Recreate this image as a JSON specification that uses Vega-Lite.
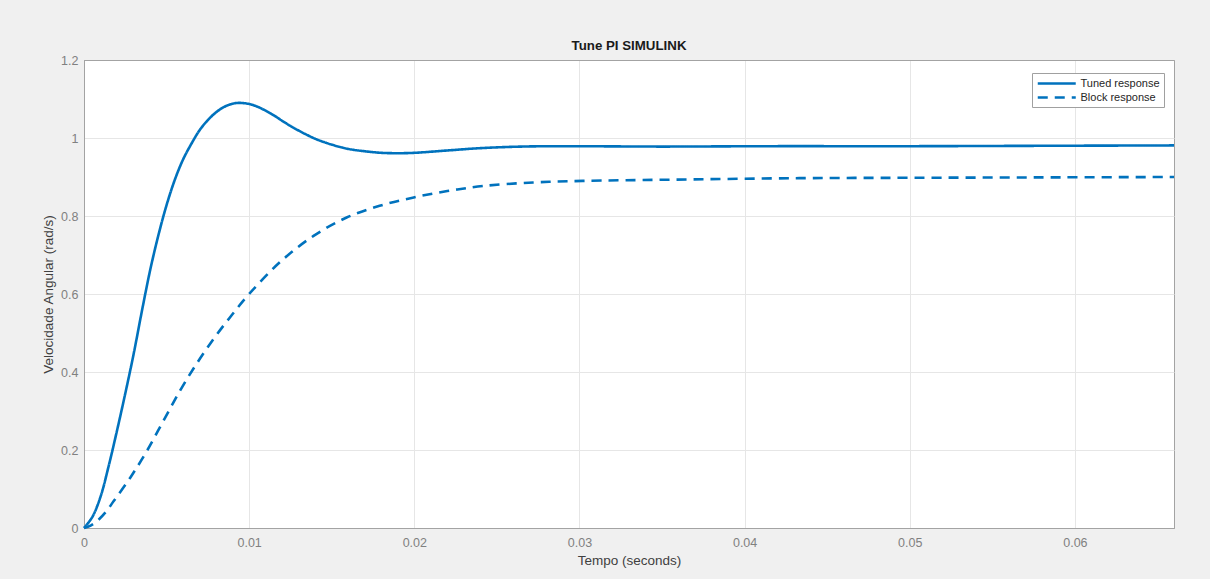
{
  "$schema": "https://vega.github.io/schema/vega-lite/v6.json",
  "width": 1090,
  "height": 468,
  "autosize": {"type": "none"},
  "padding": {"left": 84, "top": 60, "right": 36, "bottom": 51},
  "background": "#f0f0f0",
  "title": {"text": "Tune PI SIMULINK", "fontSize": 13.3, "font": "Liberation Sans", "fontWeight": "bold", "color": "#1a1a1a", "anchor": "middle", "offset": -9, "baseline": "alphabetic"},
  "config": {
    "font": "Liberation Sans",
    "view": {"fill": "white", "stroke": "#a3a3a3", "strokeWidth": 1}
  },
  "data": {"values": [
    {"t": 0, "v": 0, "series": "Tuned response"},
    {"t": 0.0005, "v": 0.028, "series": "Tuned response"},
    {"t": 0.001, "v": 0.08, "series": "Tuned response"},
    {"t": 0.0015, "v": 0.16, "series": "Tuned response"},
    {"t": 0.002, "v": 0.25, "series": "Tuned response"},
    {"t": 0.0025, "v": 0.345, "series": "Tuned response"},
    {"t": 0.003, "v": 0.445, "series": "Tuned response"},
    {"t": 0.0035, "v": 0.555, "series": "Tuned response"},
    {"t": 0.004, "v": 0.66, "series": "Tuned response"},
    {"t": 0.0045, "v": 0.75, "series": "Tuned response"},
    {"t": 0.005, "v": 0.828, "series": "Tuned response"},
    {"t": 0.0055, "v": 0.893, "series": "Tuned response"},
    {"t": 0.006, "v": 0.945, "series": "Tuned response"},
    {"t": 0.0065, "v": 0.985, "series": "Tuned response"},
    {"t": 0.007, "v": 1.02, "series": "Tuned response"},
    {"t": 0.0075, "v": 1.046, "series": "Tuned response"},
    {"t": 0.008, "v": 1.066, "series": "Tuned response"},
    {"t": 0.0085, "v": 1.08, "series": "Tuned response"},
    {"t": 0.009, "v": 1.088, "series": "Tuned response"},
    {"t": 0.0094, "v": 1.09, "series": "Tuned response"},
    {"t": 0.0099, "v": 1.088, "series": "Tuned response"},
    {"t": 0.0104, "v": 1.082, "series": "Tuned response"},
    {"t": 0.011, "v": 1.07, "series": "Tuned response"},
    {"t": 0.0115, "v": 1.058, "series": "Tuned response"},
    {"t": 0.012, "v": 1.044, "series": "Tuned response"},
    {"t": 0.0125, "v": 1.031, "series": "Tuned response"},
    {"t": 0.013, "v": 1.019, "series": "Tuned response"},
    {"t": 0.0135, "v": 1.008, "series": "Tuned response"},
    {"t": 0.014, "v": 0.998, "series": "Tuned response"},
    {"t": 0.0145, "v": 0.99, "series": "Tuned response"},
    {"t": 0.015, "v": 0.983, "series": "Tuned response"},
    {"t": 0.016, "v": 0.972, "series": "Tuned response"},
    {"t": 0.017, "v": 0.966, "series": "Tuned response"},
    {"t": 0.018, "v": 0.962, "series": "Tuned response"},
    {"t": 0.019, "v": 0.961, "series": "Tuned response"},
    {"t": 0.02, "v": 0.962, "series": "Tuned response"},
    {"t": 0.022, "v": 0.968, "series": "Tuned response"},
    {"t": 0.024, "v": 0.974, "series": "Tuned response"},
    {"t": 0.0265, "v": 0.978, "series": "Tuned response"},
    {"t": 0.029, "v": 0.979, "series": "Tuned response"},
    {"t": 0.035, "v": 0.978, "series": "Tuned response"},
    {"t": 0.0414, "v": 0.979, "series": "Tuned response"},
    {"t": 0.05, "v": 0.979, "series": "Tuned response"},
    {"t": 0.058, "v": 0.98, "series": "Tuned response"},
    {"t": 0.066, "v": 0.981, "series": "Tuned response"},
    {"t": 0, "v": 0, "series": "Block response"},
    {"t": 0.0004, "v": 0.006, "series": "Block response"},
    {"t": 0.0008, "v": 0.018, "series": "Block response"},
    {"t": 0.0013, "v": 0.04, "series": "Block response"},
    {"t": 0.0018, "v": 0.069, "series": "Block response"},
    {"t": 0.0028, "v": 0.129, "series": "Block response"},
    {"t": 0.0038, "v": 0.197, "series": "Block response"},
    {"t": 0.0048, "v": 0.274, "series": "Block response"},
    {"t": 0.0058, "v": 0.351, "series": "Block response"},
    {"t": 0.0068, "v": 0.42, "series": "Block response"},
    {"t": 0.0078, "v": 0.482, "series": "Block response"},
    {"t": 0.0088, "v": 0.538, "series": "Block response"},
    {"t": 0.01, "v": 0.6, "series": "Block response"},
    {"t": 0.0119, "v": 0.683, "series": "Block response"},
    {"t": 0.0139, "v": 0.749, "series": "Block response"},
    {"t": 0.0159, "v": 0.796, "series": "Block response"},
    {"t": 0.0179, "v": 0.826, "series": "Block response"},
    {"t": 0.0199, "v": 0.847, "series": "Block response"},
    {"t": 0.022, "v": 0.864, "series": "Block response"},
    {"t": 0.0242, "v": 0.877, "series": "Block response"},
    {"t": 0.0272, "v": 0.886, "series": "Block response"},
    {"t": 0.0302, "v": 0.89, "series": "Block response"},
    {"t": 0.0353, "v": 0.893, "series": "Block response"},
    {"t": 0.0433, "v": 0.897, "series": "Block response"},
    {"t": 0.05, "v": 0.898, "series": "Block response"},
    {"t": 0.058, "v": 0.899, "series": "Block response"},
    {"t": 0.066, "v": 0.9, "series": "Block response"}
  ]},
  "mark": {"type": "line", "interpolate": "catmull-rom", "strokeWidth": 2.6},
  "encoding": {
    "x": {
      "field": "t", "type": "quantitative",
      "scale": {"domain": [0, 0.066], "nice": false, "zero": false},
      "axis": {
        "values": [0, 0.01, 0.02, 0.03, 0.04, 0.05, 0.06],
        "format": ".2~f",
        "title": "Tempo (seconds)",
        "grid": true,
        "gridColor": {"condition": {"test": "datum.value == 0", "value": "#a3a3a3"}, "value": "#e6e6e6"},
        "domain": true, "domainColor": "#a3a3a3",
        "ticks": false,
        "labelPadding": 8, "labelFontSize": 12.5, "labelColor": "#808080", "labelFlush": false,
        "titleFontSize": 13.5, "titleColor": "#404040", "titleFontWeight": "normal", "titlePadding": 5
      }
    },
    "y": {
      "field": "v", "type": "quantitative",
      "scale": {"domain": [0, 1.2], "nice": false},
      "axis": {
        "values": [0, 0.2, 0.4, 0.6, 0.8, 1, 1.2],
        "format": ".1~f",
        "title": "Velocidade Angular (rad/s)",
        "grid": true,
        "gridColor": {"condition": {"test": "datum.value == 0 || datum.value == 1.2", "value": "#a3a3a3"}, "value": "#e6e6e6"},
        "domain": true, "domainColor": "#a3a3a3",
        "ticks": false,
        "labelPadding": 6, "labelFontSize": 12.5, "labelColor": "#808080", "labelFlush": false,
        "titleFontSize": 13.5, "titleColor": "#404040", "titleFontWeight": "normal", "titlePadding": 5
      }
    },
    "color": {
      "field": "series", "type": "nominal",
      "scale": {"domain": ["Tuned response", "Block response"], "range": ["#0072BD", "#0072BD"]},
      "legend": {"title": null, "orient": "none", "legendX": 948, "legendY": 13, "fillColor": "white", "strokeColor": "#a0a0a0", "padding": 4, "rowPadding": 2, "symbolType": "M-4,0L4,0", "symbolSize": 90.25, "symbolOffset": 14.25, "symbolStrokeWidth": 2.6, "labelFontSize": 11, "labelColor": "#262626", "labelOffset": 17.25, "cornerRadius": 0}
    },
    "strokeDash": {
      "field": "series", "type": "nominal",
      "scale": {"domain": ["Tuned response", "Block response"], "range": [[1, 0], [10, 7]]},
      "legend": {"title": null, "orient": "none", "legendX": 948, "legendY": 13, "fillColor": "white", "strokeColor": "#a0a0a0", "padding": 4, "rowPadding": 2, "symbolType": "M-4,0L4,0", "symbolSize": 90.25, "symbolOffset": 14.25, "symbolStrokeWidth": 2.6, "labelFontSize": 11, "labelColor": "#262626", "labelOffset": 17.25, "cornerRadius": 0}
    }
  }
}
